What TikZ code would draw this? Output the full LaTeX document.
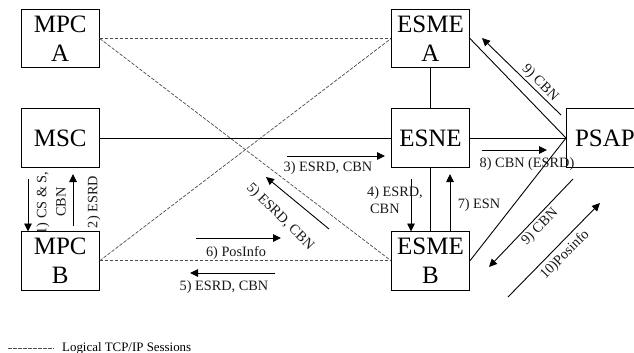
\documentclass[tikz,border=0pt]{standalone}
\usepackage{fontspec}
\setmainfont{Liberation Serif}
\usetikzlibrary{arrows.meta}
\tikzset{
  x=1pt,y=-1pt,
  netbox/.style={draw=black,line width=0.9pt,fill=white,minimum width=78pt,minimum height=58.5pt,inner sep=0pt,align=center,font=\fontsize{25}{29}\selectfont},
  session/.style={draw=black!70,line width=0.7pt,dash pattern=on 3.5pt off 1.5pt},
  link/.style={draw=black,line width=0.9pt},
  flow/.style={draw=black,line width=0.9pt,-{Triangle[length=8pt,width=7.5pt]}},
  lab/.style={inner sep=0pt,font=\fontsize{14.3}{16}\selectfont,text=black!90},
}
\begin{document}
\begin{tikzpicture}
\useasboundingbox (0,0) rectangle (634,353);
\clip (0,0) rectangle (634,353);
% label that the MPC B box overlaps
\node[lab,rotate=90] (l1) at (43,203) {1) CS \& S,};
% boxes
\node[netbox] (mpca) at (60.25,38.5) {MPC\\A};
\node[netbox] (msc) at (60.25,138) {MSC};
\node[netbox] (mpcb) at (60.25,260.75) {MPC\\B};
\node[netbox] (esmea) at (430.5,38.5) {ESME\\A};
\node[netbox] (esne) at (430.5,138) {ESNE};
\node[netbox] (esmeb) at (430.5,260.75) {ESME\\B};
% coordinates for free arrows
\coordinate (a1s) at (28,179); \coordinate (a1e) at (28,231.5);
\coordinate (a2s) at (73,226); \coordinate (a2e) at (73,174);
\coordinate (a3s) at (287,156); \coordinate (a3e) at (385,156);
\coordinate (a4s) at (411,179); \coordinate (a4e) at (411,231.5);
\coordinate (a5s) at (329,229); \coordinate (a5e) at (266,177);
\coordinate (a6s) at (196,238); \coordinate (a6e) at (281,238);
\coordinate (a5bs) at (275,273); \coordinate (a5be) at (190,273);
\coordinate (a7s) at (450,231.5); \coordinate (a7e) at (450,174);
\coordinate (a8s) at (482,150); \coordinate (a8e) at (547,150);
\coordinate (a9s) at (561,115); \coordinate (a9e) at (482,38);
\coordinate (a9bs) at (573,179); \coordinate (a9be) at (489,267);
\coordinate (a10s) at (508,297); \coordinate (a10e) at (600,203);
\coordinate (lg1) at (8,348); \coordinate (lg2) at (54,348);
% PSAP
\node[netbox,anchor=west,minimum width=84pt] (psap) at (566,138) {\hspace*{-7pt}PSAP};
% label over the PSAP box edge
\node[lab] (l8) at (527,164.5) {8) CBN (ESRD)};
% sessions
\draw[session] (mpca.east) -- (esmea.west);
\draw[session] (mpca.east) -- (esmeb.west);
\draw[session] (mpcb.east) -- (esmea.west);
\draw[session] (mpcb.east) -- (esmeb.west);
% links
\draw[link] (msc.east) -- (esne.west);
\draw[link] (esne.east) -- (psap.west);
\draw[link] (esmea.south) -- (esne.north);
\draw[link] (esne.south) -- (esmeb.north);
\draw[link] (esmea.east) -- (psap.west);
\draw[link] (esmeb.east) -- (psap.west);
% flows
\draw[flow] (a1s) -- (a1e);
\draw[flow] (a2s) -- (a2e);
\draw[flow] (a3s) -- (a3e);
\draw[flow] (a4s) -- (a4e);
\draw[flow] (a5s) -- (a5e);
\draw[flow] (a6s) -- (a6e);
\draw[flow] (a5bs) -- (a5be);
\draw[flow] (a7s) -- (a7e);
\draw[flow] (a8s) -- (a8e);
\draw[flow] (a9s) -- (a9e);
\draw[flow] (a9bs) -- (a9be);
\draw[flow] (a10s) -- (a10e);
% labels
\node[lab] (l3) at (328,168.5) {3) ESRD, CBN};
\node[lab,rotate=90] (l1b) at (61,202) {CBN};
\node[lab,rotate=90] (l2) at (94,202) {2) ESRD};
\node[lab,rotate=-45] (l5) at (280,217) {5) ESRD, CBN};
\node[lab] (l6) at (236,253) {6) PosInfo};
\node[lab] (l5b) at (224,287) {5) ESRD, CBN};
\node[lab,anchor=west] (l4) at (367,193) {4) ESRD,};
\node[lab,anchor=west] (l4b) at (370,209) {CBN};
\node[lab] (l7) at (479,205) {7) ESN};
\node[lab,rotate=-45] (l9) at (540,83) {9) CBN};
\node[lab,rotate=45] (l9b) at (540,227) {9) CBN};
\node[lab,rotate=45] (l10) at (565,255) {10)Posinfo};
% legend
\draw[session] (lg1) -- (lg2);
\node[inner sep=0pt,anchor=west,font=\fontsize{12.9}{14}\selectfont] (lg) at (62,348) {Logical TCP/IP Sessions};
\end{tikzpicture}
\end{document}
